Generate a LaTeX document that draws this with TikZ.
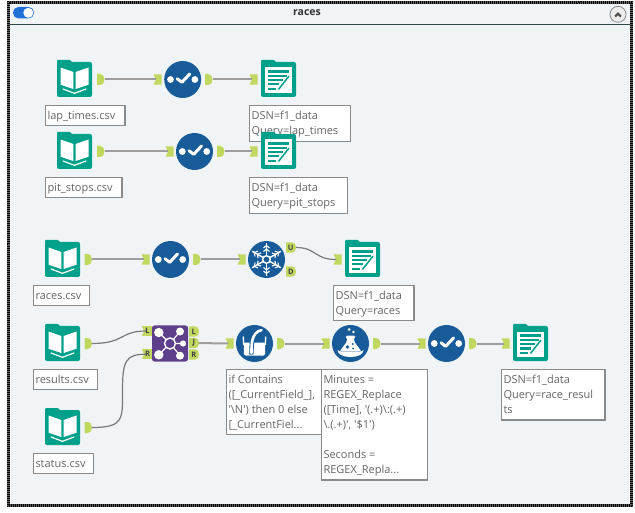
\documentclass[tikz,border=0pt]{standalone}
\usepackage{fontspec}
\newfontfamily\lblfont{Open Sans}
\definecolor{bgpane}{HTML}{F0F4F6}
\definecolor{tealic}{HTML}{00A08A}
\definecolor{blueic}{HTML}{175C99}
\definecolor{purpic}{HTML}{5E3F8C}
\definecolor{ancgreen}{HTML}{BFD85F}
\definecolor{txtgray}{HTML}{666666}
\definecolor{boxedge}{HTML}{8A8A8A}
\definecolor{togglebl}{HTML}{1E6FD6}
\definecolor{headline}{HTML}{2F4A4A}
\tikzset{
  lblbox/.style={draw=boxedge,line width=1.1pt,outer sep=0pt,fill=white,anchor=north west,inner sep=0pt,font=\lblfont\fontsize{11}{15}\selectfont,text=txtgray},
  circic/.style={circle,fill=blueic,minimum size=37pt,inner sep=0pt},
  squareic/.style={rectangle,fill=tealic,rounded corners=2pt,minimum size=35pt,inner sep=0pt},
  joinic/.style={rectangle,fill=purpic,rounded corners=2.5pt,minimum size=36pt,inner sep=0pt},
  ancnode/.style={inner sep=0pt,outer sep=0pt,minimum width=7.5pt,minimum height=10pt,font=\lblfont\bfseries\fontsize{7.5}{8}\selectfont,text=black!75},
  wire/.style={draw=black!38,line width=2pt,shorten >=-2.5pt},
  curvewire/.style={draw=black!52,line width=1.2pt,shorten >=-2.5pt},
  whiteline/.style={draw=white,line cap=round,line join=round},
}
% label box: name, x, y, w, h, text
\newcommand\LBox[6]{\node[lblbox] (#1) at (#2,#3) {\hspace{2pt}\parbox[c][#5pt][t]{\dimexpr#4pt-2pt\relax}{\rule{0pt}{14pt}\ignorespaces#6}};}
% input anchor: name, left x, y, letter
\newcommand\InAnc[4]{\fill[ancgreen] (#2,#3-5.2) -- ++(8,0) -- ++(0,10.4) -- ++(-8,0) -- ++(2.5,-5.2) -- cycle;
  \node[ancnode] (#1) at (#2+4,#3) {#4};}
% output anchor: name, left x, y, letter
\newcommand\OutAnc[4]{\fill[ancgreen] (#2,#3-5.5) -- (#2+3,#3-5.5) .. controls (#2+6,#3-5.5) and (#2+7.5,#3-3) .. (#2+7.5,#3) .. controls (#2+7.5,#3+3) and (#2+6,#3+5.5) .. (#2+3,#3+5.5) -- (#2,#3+5.5) -- cycle;
  \node[ancnode] (#1) at (#2+3.75,#3) {#4};}
\newcommand\OutAncL[4]{\fill[ancgreen] (#2,#3-5.2) -- (#2+6,#3-5.2) .. controls (#2+8.5,#3-5.2) and (#2+10,#3-3) .. (#2+10,#3) .. controls (#2+10,#3+3) and (#2+8.5,#3+5.2) .. (#2+6,#3+5.2) -- (#2,#3+5.2) -- cycle;
  \node[ancnode,minimum width=10pt] (#1) at (#2+4.8,#3) {#4};}
\newcommand\BookIcon[3]{\node[squareic] (#1) at (#2,#3) {};
  \begin{scope}[shift={(#2,#3)}]
    \fill[tealic,rounded corners=1pt] (-17.5,-19.5) -- (-4,-19.5) -- (-2,-16) -- (-17.5,-16) -- cycle;
    \fill[white] (-14,-12) -- (-1.1,-7.5) -- (-1.1,9.5) -- (-14,5.2) -- cycle;
    \fill[white] (14,-12) -- (1.1,-7.5) -- (1.1,9.5) -- (14,5.2) -- cycle;
    \draw[whiteline,line width=1.2pt] (-11.5,9.5) -- (0,13.8) -- (11.5,9.5);
  \end{scope}}
\newcommand\WriteIcon[3]{\node[squareic] (#1) at (#2,#3) {};
  \begin{scope}[shift={(#2,#3)}]
    \fill[tealic,rounded corners=1pt] (-17.5,-19.5) -- (-4,-19.5) -- (-2,-16) -- (-17.5,-16) -- cycle;
    \fill[white] (-13.5,-12) rectangle (13.5,13.5);
    \draw[tealic,line width=2.2pt] (-10.5,-8) -- (10.5,-8) (-10.5,-3.7) -- (8,-3.7) (-10.5,.6) -- (4,.6) (-10.5,4.9) -- (0,4.9) (-10.5,9.2) -- (-3,9.2);
    \draw[white,line width=3.2pt] (0,11) -- (10.5,-3);
    \draw[tealic,line width=1.5pt] (0,10) -- (10.5,-3.5);
  \end{scope}}
\newcommand\CheckIcon[3]{\node[circic] (#1) at (#2,#3) {};
  \begin{scope}[shift={(#2,#3)}]
    \fill[white] (-12.2,0) circle (3.4) (12.2,0) circle (3.4);
    \draw[whiteline,line width=3pt] (-5.5,-.8) -- (-.8,2.8) -- (7,-5.5);
  \end{scope}}
\newcommand\FlakeIcon[3]{\node[circic] (#1) at (#2,#3) {};
  \begin{scope}[shift={(#2,#3)}]
    \foreach \ang in {30,90,150,210,270,330}{
      \begin{scope}[rotate=\ang]
        \draw[white,line width=1.4pt] (4,0) -- (16.5,0);
        \draw[white,line width=1.1pt] (8,-3) -- (10.5,0) -- (8,3) (11.5,-3) -- (14,0) -- (11.5,3);
      \end{scope}}
    \draw[white,line width=1.4pt] (0,0) circle (3.8);
  \end{scope}}
\newcommand\BeakerIcon[3]{\node[circic] (#1) at (#2,#3) {};
  \begin{scope}[shift={(#2,#3)}]
    \fill[white,rounded corners=1.5pt] (-10.8,-1) -- (10.8,-1) -- (10.5,12) -- (-10.5,12) -- cycle;
    \draw[whiteline,line width=1.4pt] (-11.2,-6.5) -- (-10.8,1) (11.2,-6.5) -- (10.8,1);
    \draw[blueic,line width=4.4pt] (-3,11) .. controls (-3,2) and (-3.5,-11) .. (7,-13.5);
    \draw[whiteline,line width=2.6pt] (-3,9.5) .. controls (-3,2) and (-3.5,-11) .. (7,-13.5);
  \end{scope}}
\newcommand\FlaskIcon[3]{\node[circic] (#1) at (#2,#3) {};
  \begin{scope}[shift={(#2,#3)}]
    \fill[white] (-1.5,-14) circle (1.5) (3,-11.5) circle (1.4);
    \fill[white,rounded corners=1.5pt] (-4.5,-8) -- (4.5,-8) -- (4.5,-6.5) -- (3.5,-6) -- (3.5,-2) -- (11,8) -- (-11,8) -- (-3.5,-2) -- (-3.5,-6) -- (-4.5,-6.5) -- cycle;
    \fill[blueic] (-3,3.5) circle (1.8) (2.2,0.5) circle (1.2) (2.5,5) circle (1);
    \draw[blueic,line width=1pt] (-12,7) .. controls (-8,10.5) and (8,10.5) .. (12,7);
    \fill[white] (-13,6.5) .. controls (-11,9.5) and (11,9.5) .. (13,6.5) .. controls (13,11) and (7,13.5) .. (0,13.5) .. controls (-7,13.5) and (-13,11) .. (-13,6.5) -- cycle;
  \end{scope}}
\newcommand\JoinIcon[3]{\node[joinic] (#1) at (#2,#3) {};
  \begin{scope}[shift={(#2,#3)}]
    \draw[white,line width=1.1pt] (-11,-11) -- (0,0) (-11,11) -- (0,0) (10,-12) -- (0,0) (10,12) -- (0,0) (13,0) -- (0,0);
    \fill[white] (-11.2,-11) circle (4.7) (-11.2,11.3) circle (4.7) (10,-12) circle (4) (10,12.2) circle (4) (13,0) circle (3.1);
    \draw[white,line width=1.4pt,fill=purpic] (0,0) circle (5.5);
  \end{scope}}
\begin{document}
\begin{tikzpicture}[x=1pt,y=-1pt]
\useasboundingbox (0,0) rectangle (635,513);
\fill[white] (0,0) rectangle (635,513);
% pane
\fill[bgpane] (9,2) rectangle (631,505);
\draw[black!62,line width=3pt] (8.5,2.5) rectangle (631.5,505.5);
\foreach \dd/\ph in {0/0,1/1,2/0}{
  \draw[black,line width=1pt,dash pattern=on 1pt off 1pt,dash phase=\ph] (7.5+\dd,1.5+\dd) rectangle (632.5-\dd,506.5-\dd);
}
\draw[headline,line width=1pt] (10,25) -- (630,25);
% header
\fill[togglebl,rounded corners=5.5pt] (13,7) rectangle (34,18.5);
\fill[white] (28.3,12.8) circle (5);
\node[font=\lblfont\bfseries\fontsize{10.5}{12}\selectfont,text=black!80] (title) at (307,13) {races};
\node[circle,draw=black!45,fill=black!7,line width=.8pt,minimum size=16pt,inner sep=0pt] (collapse) at (618,14.3) {};
\draw[black!70,line width=1pt] (614.8,16) -- (618,12.8) -- (621.2,16) (615.5,17) -- (618,14.5) -- (620.5,17);
% labels
\LBox{l1}{45.5}{105.5}{79.5}{20}{lap\_times.csv}
\LBox{l2}{45.5}{177.5}{76.5}{20}{pit\_stops.csv}
\LBox{l3}{33.5}{285.5}{56}{20}{races.csv}
\LBox{l4}{33.5}{369.5}{64}{20}{results.csv}
\LBox{l5}{33.5}{453.5}{60}{20}{status.csv}
\LBox{d1}{249.5}{105.5}{101}{36}{DSN=f1\_data\\Query=lap\_times}
\LBox{d2}{249.5}{177.5}{98}{36}{DSN=f1\_data\\Query=pit\_stops}
\LBox{d3}{333.5}{285.5}{80.5}{35}{DSN=f1\_data\\Query=races}
\LBox{f1}{226.5}{369.5}{95}{65}{if Contains\\([\_CurrentField\_],\\'\textbackslash N') then 0 else\\{[}\_CurrentFiel...}
\LBox{f2}{321.5}{369.5}{106}{110.5}{Minutes =\\REGEX\_Replace\\([Time], '(.+)\textbackslash:(.+)\\\textbackslash.(.+)', '\$1')\\~\\Seconds =\\REGEX\_Repla...}
\LBox{d4}{501.5}{369.5}{103.5}{50.5}{DSN=f1\_data\\Query=race\_resul\\ts}
% tools
\BookIcon{b1}{74.5}{79.5}
\BookIcon{b2}{74.5}{151.5}
\BookIcon{b3}{62.5}{259.5}
\BookIcon{b4}{62.5}{343.5}
\BookIcon{b5}{62.5}{427.5}
\CheckIcon{c1}{182.7}{79.5}
\CheckIcon{c2}{194.5}{151.5}
\CheckIcon{c3}{170.5}{259.5}
\CheckIcon{c4}{446.5}{343.5}
\FlakeIcon{s1}{266.5}{259.5}
\JoinIcon{j1}{170}{343.5}
\BeakerIcon{k1}{254.5}{343.5}
\FlaskIcon{x1}{350.5}{343.5}
\WriteIcon{w1}{278.5}{79.5}
\WriteIcon{w2}{278.5}{151.5}
\WriteIcon{w3}{362.5}{259.5}
\WriteIcon{w4}{530.5}{343.5}
% anchors
\OutAnc{ob1}{97}{79.5}{}
\InAnc{ic1}{153.5}{79.5}{}
\OutAnc{oc1}{205}{79.5}{}
\InAnc{iw1}{249.5}{79.5}{}
\OutAnc{ob2}{97}{151.5}{}
\InAnc{ic2}{165.5}{151.5}{}
\OutAnc{oc2}{217}{151.5}{}
\InAnc{iw2}{249.5}{151.5}{}
\OutAnc{ob3}{84.5}{259.5}{}
\InAnc{ic3}{141.5}{259.5}{}
\OutAnc{oc3}{193}{259.5}{}
\InAnc{is1}{237.5}{259.5}{}
\OutAncL{osu}{286}{247.5}{U}
\OutAncL{osd}{286}{271.5}{D}
\InAnc{iw3}{333.5}{259.5}{}
\OutAnc{ob4}{84.5}{343.5}{}
\OutAnc{ob5}{84.5}{427.5}{}
\fill[ancgreen] (141.5,325.8) rectangle ++(10.5,10.4);
\fill[bgpane] (141.5,325.8) -- ++(2.5,5.2) -- ++(-2.5,5.2) -- cycle;
\node[ancnode,minimum width=8pt] (ijl) at (147.5,331) {L};
\fill[ancgreen] (141.5,349) rectangle ++(10.5,10.4);
\fill[bgpane] (141.5,349) -- ++(2.5,5.2) -- ++(-2.5,5.2) -- cycle;
\node[ancnode,minimum width=8pt] (ijr) at (147.5,354.2) {R};
\OutAncL{ojl}{189}{331.5}{L}
\OutAncL{ojj}{189}{343}{J}
\OutAncL{ojr}{189}{354.5}{R}
\InAnc{ik1}{225.5}{343.5}{}
\OutAnc{ok1}{277}{343.5}{}
\InAnc{ix1}{321.5}{343.5}{}
\OutAnc{ox1}{373}{343.5}{}
\InAnc{ic4}{417.5}{343.5}{}
\OutAnc{oc4}{469}{343.5}{}
\InAnc{iw4}{501.5}{343.5}{}
% connectors
\coordinate (bendr) at (122.5,391);
\draw[wire] (ob1) -- (ic1);
\draw[wire] (oc1) -- (iw1);
\draw[wire] (ob2) -- (ic2);
\draw[wire] (oc2) -- (iw2);
\draw[wire] (ob3) -- (ic3);
\draw[wire] (oc3) -- (is1);
\draw[wire] (ojj) -- (ik1);
\draw[wire] (ok1) -- (ix1);
\draw[wire] (ox1) -- (ic4);
\draw[wire] (oc4) -- (iw4);
\draw[curvewire] (osu.east) .. controls +(21,0) and +(-20,0) .. (iw3.west);
\draw[curvewire] (ob4.east) .. controls +(33,0) and +(-24,0) .. (ijl.west);
\draw[curvewire] (ob5.east) .. controls +(32,0) and +(0,28) .. (bendr) .. controls +(0,-30) and +(-18,0) .. (ijr.west);
\end{tikzpicture}
\end{document}
